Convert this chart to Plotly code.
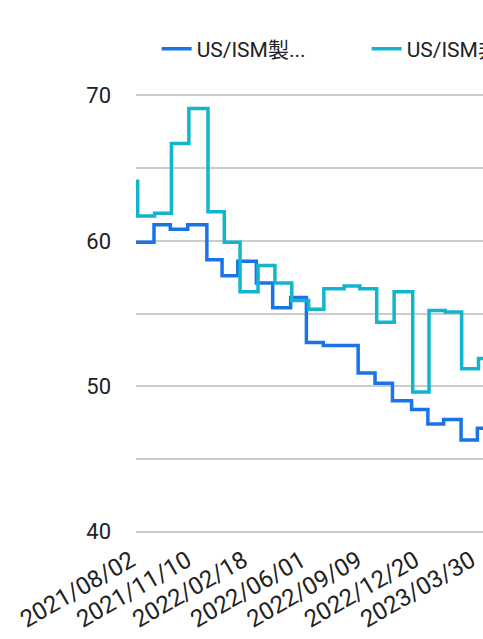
import plotly.graph_objects as go

# ---- data ----
mfg_name = "US/ISM製..."
mfg_dates = ["2021-08-02", "2021-09-03", "2021-10-02", "2021-11-02", "2021-12-06",
             "2022-01-02", "2022-01-30", "2022-03-04", "2022-04-02", "2022-05-04",
             "2022-06-01", "2022-07-01", "2022-08-01", "2022-09-01", "2022-10-01",
             "2022-11-01", "2022-12-05", "2023-01-03", "2023-01-31", "2023-03-03",
             "2023-04-01", "2023-04-20"]
mfg_values = [59.9, 61.1, 60.8, 61.1, 58.7,
              57.6, 58.6, 57.1, 55.4, 56.1,
              53.0, 52.8, 52.8, 50.9, 50.2,
              49.0, 48.4, 47.4, 47.7, 46.3,
              47.1, 47.1]

svc_name = "US/ISM非..."
svc_dates = ["2021-08-02", "2021-08-05", "2021-09-04", "2021-10-04", "2021-11-04",
             "2021-12-08", "2022-01-06", "2022-02-03", "2022-03-07", "2022-04-06",
             "2022-05-06", "2022-06-05", "2022-07-02", "2022-08-07", "2022-09-04",
             "2022-10-04", "2022-11-04", "2022-12-07", "2023-01-05", "2023-02-03",
             "2023-03-04", "2023-04-03", "2023-04-20"]
svc_values = [64.1, 61.7, 61.9, 66.7, 69.1,
              62.0, 59.9, 56.5, 58.3, 57.1,
              55.9, 55.3, 56.7, 56.9, 56.7,
              54.4, 56.5, 49.6, 55.2, 55.1,
              51.2, 51.9, 51.9]

tick_dates = ["2021-08-02", "2021-11-10", "2022-02-18", "2022-06-01",
              "2022-09-09", "2022-12-20", "2023-03-30"]
tick_labels = ["2021/08/02", "2021/11/10", "2022/02/18", "2022/06/01",
               "2022/09/09", "2022/12/20", "2023/03/30"]

x_range = ["2021-08-02", "2023-04-11"]
y_range = [39.9, 70.1]

FONT = "Roboto, 'Noto Sans CJK JP', sans-serif"

fig = go.Figure()
fig.add_trace(go.Scatter(x=mfg_dates, y=mfg_values, name=mfg_name, mode="lines",
                         line=dict(shape="hv", width=3.5, color="#1a73e8")))
fig.add_trace(go.Scatter(x=svc_dates, y=svc_values, name=svc_name, mode="lines",
                         line=dict(shape="hv", width=3.5, color="#12b5cb")))

fig.update_layout(
    width=483, height=639,
    margin=dict(l=136, r=0, t=94, b=106, autoexpand=False),
    paper_bgcolor="white", plot_bgcolor="white",
    font=dict(family=FONT, size=21, color="#222222"),
    showlegend=True,
    legend=dict(orientation="h", x=-0.001, xanchor="left", y=1.1025, yanchor="middle",
                entrywidth=144, entrywidthmode="pixels", indentation=21,
                font=dict(size=21, color="#222222"), bgcolor="rgba(0,0,0,0)"),
    hovermode=False,
)
fig.update_xaxes(type="date", range=x_range, tickvals=tick_dates, ticktext=tick_labels,
                 tickangle=-30, showgrid=False, showline=False, zeroline=False,
                 ticks="", ticklabelstandoff=8, ticklabelshift=-5,
                 ticklabeloverflow="allow",
                 tickfont=dict(size=24, color="#222222"))
fig.update_yaxes(range=y_range, dtick=10, tick0=40, showgrid=True, gridcolor="#cccccc",
                 gridwidth=2, zeroline=False, showline=False, ticks="",
                 ticklabelstandoff=24,
                 minor=dict(dtick=5, tick0=40, showgrid=True, gridcolor="#cccccc", gridwidth=2),
                 tickfont=dict(size=22, color="#222222"))

fig.write_html("out.html", config={"displayModeBar": False},
               post_script="document.body.style.margin='0px';")
